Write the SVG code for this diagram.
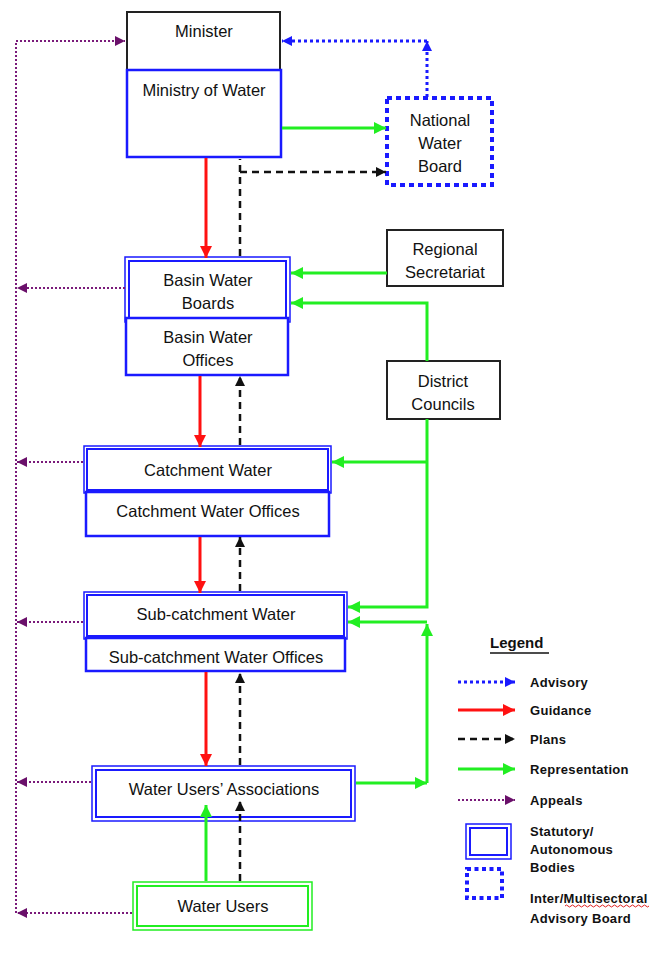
<svg xmlns="http://www.w3.org/2000/svg" width="650" height="953" viewBox="0 0 650 953">
<style>
text{font-family:"Liberation Sans",Arial,sans-serif;fill:#111;text-anchor:middle}
.t{font-size:16.5px}
.lg{font-size:13px;font-weight:bold;text-anchor:start;letter-spacing:0.3px}
.box{fill:#fff;stroke:#1a1aff;stroke-width:2.5}
.dbo{fill:#fff;stroke:#1a1aff;stroke-width:1.5}
.dbi{fill:none;stroke:#1a1aff;stroke-width:2}
.gbo{fill:#fff;stroke:#22ee22;stroke-width:1.5}
.gbi{fill:none;stroke:#22ee22;stroke-width:2}
.blk{fill:#fff;stroke:#222;stroke-width:2}
.adv{fill:none;stroke:#1a1aff;stroke-width:3;stroke-dasharray:3 3}
.gui{fill:none;stroke:#ff1111;stroke-width:3}
.pln{fill:none;stroke:#111;stroke-width:2.5;stroke-dasharray:7 5}
.rep{fill:none;stroke:#22ee22;stroke-width:3}
.app{fill:none;stroke:#7a1a7a;stroke-width:2;stroke-dasharray:2 2}
.nwb{fill:#fff;stroke:#1a1aff;stroke-width:4;stroke-dasharray:5 4}
</style>
<defs>
<marker id="aB" markerUnits="userSpaceOnUse" markerWidth="10" markerHeight="10" refX="10" refY="5" orient="auto"><path d="M0,0 L10,5 L0,10 z" fill="#1a1aff"/></marker>
<marker id="aR" markerUnits="userSpaceOnUse" markerWidth="12" markerHeight="12" refX="12" refY="6" orient="auto"><path d="M0,0 L12,6 L0,12 z" fill="#ff1111"/></marker>
<marker id="aK" markerUnits="userSpaceOnUse" markerWidth="10" markerHeight="10" refX="10" refY="5" orient="auto"><path d="M0,0 L10,5 L0,10 z" fill="#111"/></marker>
<marker id="aG" markerUnits="userSpaceOnUse" markerWidth="12" markerHeight="12" refX="12" refY="6" orient="auto"><path d="M0,0 L12,6 L0,12 z" fill="#22ee22"/></marker>
<marker id="aP" markerUnits="userSpaceOnUse" markerWidth="10" markerHeight="10" refX="10" refY="5" orient="auto"><path d="M0,0 L10,5 L0,10 z" fill="#6a106a"/></marker>
</defs>

<g id="minister">
<rect class="blk" x="127" y="12" width="153" height="60"/>
<text class="t" x="204" y="37">Minister</text>
</g>
<g id="ministry">
<rect class="box" x="127" y="70" width="154" height="87"/>
<text class="t" x="204" y="96">Ministry of Water</text>
</g>
<g id="nwb">
<rect class="nwb" x="387" y="98" width="105" height="87"/>
<text class="t" x="440" y="126">National</text>
<text class="t" x="440" y="149">Water</text>
<text class="t" x="440" y="172">Board</text>
</g>
<g id="regional">
<rect class="blk" x="387" y="230" width="116" height="56"/>
<text class="t" x="445" y="255">Regional</text>
<text class="t" x="445" y="278">Secretariat</text>
</g>
<g id="district">
<rect class="blk" x="387" y="361" width="113" height="58"/>
<text class="t" x="443" y="387">District</text>
<text class="t" x="443" y="410">Councils</text>
</g>
<g id="basin-boards">
<rect class="dbo" x="125" y="257" width="165" height="65"/>
<rect class="dbi" x="129" y="261" width="157" height="57"/>
<text class="t" x="208" y="286">Basin Water</text>
<text class="t" x="208" y="309">Boards</text>
</g>
<g id="basin-offices">
<rect class="box" x="126" y="318" width="162" height="57"/>
<text class="t" x="208" y="343">Basin Water</text>
<text class="t" x="208" y="366">Offices</text>
</g>
<g id="catchment">
<rect class="dbo" x="84" y="446" width="247" height="47"/>
<rect class="dbi" x="87" y="449" width="241" height="41"/>
<text class="t" x="208" y="476">Catchment Water</text>
</g>
<g id="catchment-offices">
<rect class="box" x="86" y="492" width="243" height="44"/>
<text class="t" x="208" y="517">Catchment Water Offices</text>
</g>
<g id="subcatchment">
<rect class="dbo" x="84" y="592" width="263" height="47"/>
<rect class="dbi" x="87" y="595" width="257" height="41"/>
<text class="t" x="216" y="620">Sub-catchment Water</text>
</g>
<g id="subcatchment-offices">
<rect class="box" x="86" y="638" width="259" height="33"/>
<text class="t" x="216" y="663">Sub-catchment Water Offices</text>
</g>
<g id="wua">
<rect class="dbo" x="92" y="766" width="263" height="55"/>
<rect class="dbi" x="96" y="770" width="255" height="47"/>
<text class="t" x="224" y="795">Water Users’ Associations</text>
</g>
<g id="water-users">
<rect class="gbo" x="133" y="882" width="179" height="48"/>
<rect class="gbi" x="137" y="886" width="171" height="40"/>
<text class="t" x="223" y="912">Water Users</text>
</g>

<g id="connectors">
<path class="app" d="M16,913 L16,41 L125,41" marker-end="url(#aP)"/>
<path class="app" d="M125,288 L17,288" marker-end="url(#aP)"/>
<path class="app" d="M83,462 L17,462" marker-end="url(#aP)"/>
<path class="app" d="M83,622 L17,622" marker-end="url(#aP)"/>
<path class="app" d="M91,782 L17,782" marker-end="url(#aP)"/>
<path class="app" d="M132,913 L17,913" marker-end="url(#aP)"/>
<path class="adv" d="M427,97 L427,41" marker-end="url(#aB)"/>
<path class="adv" d="M427,41 L282,41" marker-end="url(#aB)"/>
<path class="gui" d="M206,158 L206,258" marker-end="url(#aR)"/>
<path class="gui" d="M200,376 L200,447" marker-end="url(#aR)"/>
<path class="gui" d="M200,537 L200,593" marker-end="url(#aR)"/>
<path class="gui" d="M206,672 L206,766" marker-end="url(#aR)"/>
<path class="pln" d="M240,256 L240,159"/>
<path class="pln" d="M240,172 L386,172" marker-end="url(#aK)"/>
<path class="pln" d="M240,445 L240,376" marker-end="url(#aK)"/>
<path class="pln" d="M240,591 L240,537" marker-end="url(#aK)"/>
<path class="pln" d="M240,765 L240,673" marker-end="url(#aK)"/>
<path class="pln" d="M240,881 L240,801" marker-end="url(#aK)"/>
<path class="rep" d="M282,128 L386,128" marker-end="url(#aG)"/>
<path class="rep" d="M387,273 L291,273" marker-end="url(#aG)"/>
<path class="rep" d="M427,361 L427,303 L291,303" marker-end="url(#aG)"/>
<path class="rep" d="M427,419 L427,607 L348,607" marker-end="url(#aG)"/>
<path class="rep" d="M427,462 L332,462" marker-end="url(#aG)"/>
<path class="rep" d="M356,783 L427,783" marker-end="url(#aG)"/>
<path class="rep" d="M427,783 L427,624" marker-end="url(#aG)"/>
<path class="rep" d="M427,622 L348,622" marker-end="url(#aG)"/>
<path class="rep" d="M206,881 L206,805" marker-end="url(#aG)"/>
</g>

<g id="legend">
<text x="490" y="648" style="font-size:15px;font-weight:bold;text-anchor:start">Legend</text>
<line x1="490" y1="653" x2="549" y2="653" stroke="#111" stroke-width="1.5"/>
<path class="adv" d="M458,682 L515,682" marker-end="url(#aB)"/>
<text class="lg" x="530" y="687">Advisory</text>
<path class="gui" d="M458,710 L515,710" marker-end="url(#aR)"/>
<text class="lg" x="530" y="715">Guidance</text>
<path class="pln" d="M458,739 L515,739" marker-end="url(#aK)"/>
<text class="lg" x="530" y="744">Plans</text>
<path class="rep" d="M458,769 L515,769" marker-end="url(#aG)"/>
<text class="lg" x="530" y="774">Representation</text>
<path class="app" d="M458,800 L515,800" marker-end="url(#aP)"/>
<text class="lg" x="530" y="805">Appeals</text>
<rect class="dbo" x="466" y="824" width="45" height="35"/>
<rect class="dbi" x="470" y="828" width="37" height="27"/>
<text class="lg" x="530" y="836">Statutory/</text>
<text class="lg" x="530" y="854">Autonomous</text>
<text class="lg" x="530" y="872">Bodies</text>
<rect x="467" y="869" width="35" height="29" fill="none" stroke="#1a1aff" stroke-width="4" stroke-dasharray="4 3.5"/>
<text class="lg" x="530" y="903">Inter/Multisectoral</text>
<path d="M565,906 q1.5,-2 3,0 t3,0 t3,0 t3,0 t3,0 t3,0 t3,0 t3,0 t3,0 t3,0 t3,0 t3,0 t3,0 t3,0 t3,0 t3,0 t3,0 t3,0 t3,0 t3,0 t3,0 t3,0 t3,0 t3,0 t3,0 t3,0 t3,0 t3,0" fill="none" stroke="#e02020" stroke-width="1"/>
<text class="lg" x="530" y="923">Advisory Board</text>
</g>
</svg>
